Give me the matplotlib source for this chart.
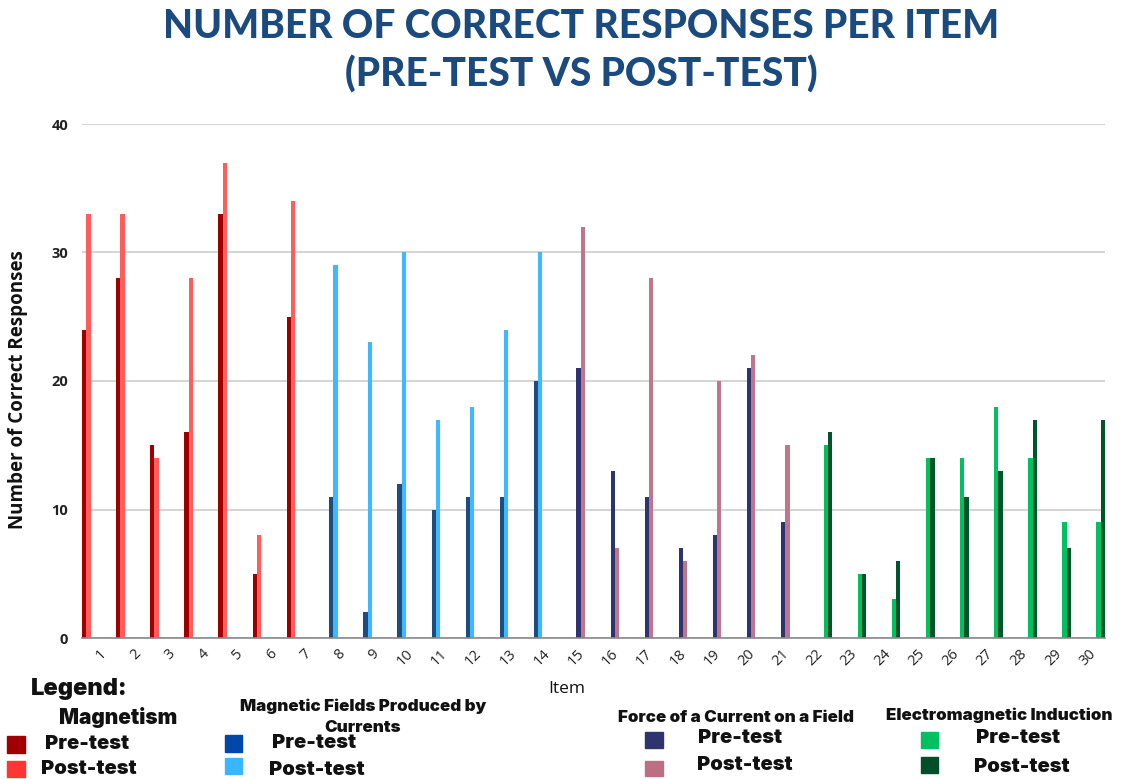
import matplotlib
matplotlib.use("Agg")
import matplotlib.pyplot as plt
from matplotlib.patches import Rectangle
import numpy as np

# ---- data -------------------------------------------------------------
items = list(range(1, 31))

magnetism_items = [1, 2, 3, 4, 5, 6, 7]
magnetism_pre = [24, 28, 15, 16, 33, 5, 25]
magnetism_post = [33, 33, 14, 28, 37, 8, 34]

fields_items = [8, 9, 10, 11, 12, 13, 14]
fields_pre = [11, 2, 12, 10, 11, 11, 20]
fields_post = [29, 23, 30, 17, 18, 24, 30]

force_items = [15, 16, 17, 18, 19, 20, 21]
force_pre = [21, 13, 11, 7, 8, 21, 9]
force_post = [32, 7, 28, 6, 20, 22, 15]

induction_items = [22, 23, 24, 25, 26, 27, 28, 29, 30]
induction_pre = [15, 5, 3, 14, 14, 18, 14, 9, 9]
induction_post = [16, 5, 6, 14, 11, 13, 17, 7, 17]

topics = ["Magnetism", "Magnetic Fields Produced by", "Currents",
          "Force of a Current on a Field", "Electromagnetic Induction"]
bar_pre_colors = ["#9E0000", "#1C4D7E", "#2F3470", "#00C060"]
bar_post_colors = ["#FF5C5C", "#3DB9FF", "#C0768A", "#00552A"]
legend_pre_colors = ["#A00000", "#0047AB", "#2E346E", "#00C060"]
legend_post_colors = ["#FF3535", "#38B6FF", "#BC6E84", "#004F2A"]

# ---- figure -----------------------------------------------------------
W, H = 1121, 779
fig = plt.figure(figsize=(W / 100, H / 100), dpi=100)
fig.patch.set_facecolor("white")

def fx(px):
    return px / W

def fy(py):
    return 1 - py / H

ax = fig.add_axes([fx(82), fy(638), fx(1105) - fx(82), fy(124) - fy(638)])

groups = [
    (magnetism_items, magnetism_pre, magnetism_post),
    (fields_items, fields_pre, fields_post),
    (force_items, force_pre, force_post),
    (induction_items, induction_pre, induction_post),
]
n_series = 8
bw = 1.0 / n_series
for g, (its, pre, post) in enumerate(groups):
    x = np.array(its, dtype=float)
    off_pre = -0.5 + (2 * g + 0.5) * bw
    off_post = -0.5 + (2 * g + 1.5) * bw
    ax.bar(x + off_pre, pre, width=bw, color=bar_pre_colors[g], zorder=3)
    ax.bar(x + off_post, post, width=bw, color=bar_post_colors[g], zorder=3)

ax.set_xlim(0.5, 30.5)
ax.set_ylim(0, 40)
ax.set_yticks([0, 10, 20, 30, 40])
ax.set_xticks(items)
ax.set_xticklabels([str(i) for i in items], rotation=45, ha="right",
                   rotation_mode="anchor", fontsize=10.5, family="Open Sans",
                   color="#222222")
for lbl in ax.get_yticklabels():
    lbl.set_fontsize(10.5)
    lbl.set_family("Open Sans")
    lbl.set_fontweight("bold")
    lbl.set_color("#222222")
ax.tick_params(axis="both", length=0)
ax.tick_params(axis="y", pad=10)
ax.tick_params(axis="x", pad=6)
ax.grid(axis="y", color="#D4D4D4", linewidth=1.4, zorder=0)
for s in ["top", "right", "left"]:
    ax.spines[s].set_visible(False)
ax.spines["bottom"].set_color("#8A8A8A")
ax.spines["bottom"].set_linewidth(1.2)
ax.spines["bottom"].set_zorder(4)

# axis titles
fig.text(fx(18), fy(390), "Number of Correct Responses", rotation=90,
         ha="center", va="center", fontsize=13.5, fontweight="bold",
         family="Open Sans", color="#111111")
fig.text(fx(567), fy(689), "Item", ha="center", va="center", fontsize=12.5,
         family="Open Sans", color="#111111")

# title
title_color = "#1B4A7E"
fig.text(fx(581), fy(26), "NUMBER OF CORRECT RESPONSES PER ITEM",
         ha="center", va="center", fontsize=28, fontweight="black",
         family="Lato", color=title_color)
fig.text(fx(581), fy(74), "(PRE-TEST VS POST-TEST)",
         ha="center", va="center", fontsize=28, fontweight="black",
         family="Lato", color=title_color)

# ---- legend ------------------------------------------------------------
lfont = dict(family="Inter", fontweight="black", color="#111111")
entry_size = 14.5
head_size = 12.2

def swatch(x0, y0, x1, y1, color):
    fig.patches.append(Rectangle((fx(x0), fy(y1)), (x1 - x0) / W, (y1 - y0) / H,
                                 transform=fig.transFigure, color=color))

fig.text(fx(31), fy(689), "Legend:", ha="left", va="center", fontsize=17, **lfont)

# Magnetism
fig.text(fx(118), fy(718), topics[0], ha="center", va="center", fontsize=15, **lfont)
swatch(7, 736, 25, 753, legend_pre_colors[0])
swatch(7, 761, 25, 777, legend_post_colors[0])
fig.text(fx(45), fy(744), "Pre-test", ha="left", va="center", fontsize=entry_size, **lfont)
fig.text(fx(41), fy(769), "Post-test", ha="left", va="center", fontsize=entry_size, **lfont)

# Magnetic fields produced by currents
fig.text(fx(363), fy(706), topics[1], ha="center", va="center", fontsize=head_size, **lfont)
fig.text(fx(363), fy(727), topics[2], ha="center", va="center", fontsize=head_size, **lfont)
swatch(225, 735, 242, 752, legend_pre_colors[1])
swatch(225, 758, 242, 774, legend_post_colors[1])
fig.text(fx(272), fy(743), "Pre-test", ha="left", va="center", fontsize=entry_size, **lfont)
fig.text(fx(269), fy(770), "Post-test", ha="left", va="center", fontsize=entry_size, **lfont)

# Force of a current on a field
fig.text(fx(736), fy(717), topics[3], ha="center", va="center", fontsize=head_size, **lfont)
swatch(645, 732, 663, 748, legend_pre_colors[2])
swatch(645, 761, 663, 776, legend_post_colors[2])
fig.text(fx(698), fy(738), "Pre-test", ha="left", va="center", fontsize=entry_size, **lfont)
fig.text(fx(697), fy(765), "Post-test", ha="left", va="center", fontsize=entry_size, **lfont)

# Electromagnetic induction
fig.text(fx(999), fy(715), topics[4], ha="center", va="center", fontsize=head_size, **lfont)
swatch(921, 732, 938, 748, legend_pre_colors[3])
swatch(921, 757, 938, 773, legend_post_colors[3])
fig.text(fx(976), fy(738), "Pre-test", ha="left", va="center", fontsize=entry_size, **lfont)
fig.text(fx(974), fy(767), "Post-test", ha="left", va="center", fontsize=entry_size, **lfont)

fig.savefig("out.png", dpi=100, facecolor="white")
